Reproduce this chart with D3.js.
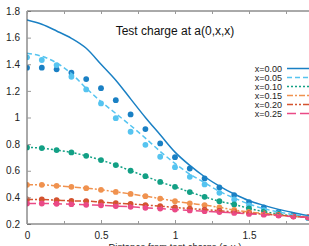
<!DOCTYPE html>
<html>
<head>
<meta charset="utf-8">
<script src="https://cdn.jsdelivr.net/npm/d3@7"></script>
<style>
  body { margin: 0; background: #fff; }
  svg { display: block; font-family: "Liberation Sans", Arial, sans-serif; }
</style>
</head>
<body>
<div id="chart"></div>
<script>
// distances (a.u.)
const distances = [0, 0.1, 0.2, 0.3, 0.4, 0.5, 0.6, 0.7, 0.8, 0.9, 1.0,
    1.1, 1.2, 1.3, 1.4, 1.5, 1.6, 1.7, 1.8, 1.9, 2.0];

const seriesNames = ["x=0.00", "x=0.05", "x=0.10", "x=0.15", "x=0.20", "x=0.25"];

// curves
const line000 = [1.732, 1.70, 1.65, 1.595, 1.52, 1.40, 1.28, 1.14, 1.00, 0.87, 0.74,
    0.64, 0.555, 0.485, 0.425, 0.375, 0.34, 0.31, 0.285, 0.262, 0.245];
const line005 = [1.482, 1.46, 1.41, 1.33, 1.22, 1.12, 1.03, 0.94, 0.845, 0.745, 0.655,
    0.575, 0.51, 0.445, 0.395, 0.35, 0.315, 0.29, 0.27, 0.255, 0.245];
const line010 = [0.775, 0.770, 0.755, 0.738, 0.712, 0.680, 0.643, 0.600, 0.559, 0.516, 0.479,
    0.440, 0.404, 0.371, 0.347, 0.317, 0.293, 0.275, 0.26, 0.25, 0.24];
const line015 = [0.494, 0.494, 0.487, 0.479, 0.469, 0.457, 0.441, 0.426, 0.409, 0.391, 0.371,
    0.355, 0.342, 0.325, 0.305, 0.29, 0.279, 0.268, 0.258, 0.25, 0.242];
const line020 = [0.384, 0.384, 0.379, 0.374, 0.372, 0.364, 0.356, 0.351, 0.342, 0.334, 0.324,
    0.316, 0.308, 0.300, 0.29, 0.282, 0.274, 0.266, 0.258, 0.25, 0.243];
const line025 = [0.354, 0.354, 0.352, 0.349, 0.344, 0.340, 0.335, 0.329, 0.322, 0.316, 0.309,
    0.302, 0.296, 0.29, 0.283, 0.276, 0.27, 0.263, 0.256, 0.25, 0.244];

// dots
const dots000 = [1.374, 1.374, 1.362, 1.336, 1.289, 1.220, 1.130, 1.023, 0.913, 0.805, 0.702,
    0.617, 0.542, 0.474, 0.417, 0.364, 0.324, 0.291, 0.266, 0.246, 0.235];
const dots005 = [1.452, 1.432, 1.394, 1.306, 1.211, 1.106, 0.995, 0.893, 0.795, 0.705, 0.627,
    0.554, 0.497, 0.434, 0.384, 0.339, 0.304, 0.28, 0.26, 0.245, 0.235];
const dots010 = line010;
const dots015 = line015;
const dots020 = line020;
const dots025 = line025;

const yTicks = [0.2, 0.4, 0.6, 0.8, 1, 1.2, 1.4, 1.6, 1.8];
const xTicks = [0, 0.5, 1, 1.5];
const xMinorTicks = [0.25, 0.75, 1.25, 1.75];

const width = 309, height = 246;
const margin = { top: 11, left: 27 };
const plotRight = 323, plotBottom = 224;

const colors = ["#1a80c4", "#56c4f0", "#13a085", "#f0924f", "#d4532f", "#ea4a86"];
const dashes = [null, "5,3", "2,2", "6,2,2,2", "6,2,2,2,2,2", "9,4"];

const series = [
    { line: line000, dots: dots000 },
    { line: line005, dots: dots005 },
    { line: line010, dots: dots010 },
    { line: line015, dots: dots015 },
    { line: line020, dots: dots020 },
    { line: line025, dots: dots025 }
];

const x = d3.scaleLinear().domain([0, 2]).range([margin.left, plotRight]);
const y = d3.scaleLinear().domain([0.2, 1.8]).range([plotBottom, margin.top]);

const svg = d3.select("#chart").append("svg")
    .attr("width", width)
    .attr("height", height);

svg.append("defs").append("clipPath").attr("id", "clip")
    .append("rect")
    .attr("x", margin.left).attr("y", margin.top)
    .attr("width", plotRight - margin.left).attr("height", plotBottom - margin.top);

const lineGen = d3.line()
    .x((d, i) => x(distances[i]))
    .y(d => y(d))
    .curve(d3.curveMonotoneX);

const plot = svg.append("g").attr("clip-path", "url(#clip)");

// dots first, lines on top
series.forEach((s, k) => {
    plot.append("g")
        .selectAll("circle")
        .data(s.dots)
        .enter().append("circle")
        .attr("cx", (d, i) => x(distances[i]))
        .attr("cy", d => y(d))
        .attr("r", 2.9)
        .attr("fill", colors[k]);
});

series.forEach((s, k) => {
    plot.append("path")
        .attr("d", lineGen(s.line))
        .attr("fill", "none")
        .attr("stroke", colors[k])
        .attr("stroke-width", 1.5)
        .attr("stroke-dasharray", dashes[k]);
});

// axes (ticks pointing inward, mirrored on top)
const axisColor = "#555";
const axisLeft = svg.append("g")
    .attr("transform", `translate(${margin.left},0)`)
    .call(d3.axisLeft(y).tickValues(yTicks).tickSize(-4).tickPadding(7)
        .tickFormat(d => +d.toFixed(1)));

const axisBottom = svg.append("g")
    .attr("transform", `translate(0,${plotBottom})`)
    .call(d3.axisBottom(x).tickValues(xTicks).tickSize(-4).tickPadding(8)
        .tickFormat(d => +d.toFixed(1)));

const axisTop = svg.append("g")
    .attr("transform", `translate(0,${margin.top})`)
    .call(d3.axisTop(x).tickValues(xTicks.concat(xMinorTicks)).tickSize(-3).tickFormat(""));

svg.append("g")
    .attr("transform", `translate(0,${plotBottom})`)
    .call(d3.axisBottom(x).tickValues(xMinorTicks).tickSize(-3).tickFormat(""));

svg.selectAll(".domain").attr("stroke", axisColor).attr("stroke-width", 1);
svg.selectAll(".tick line").attr("stroke", "#999");
svg.selectAll(".tick text").attr("fill", "#222").style("font-size", "10px");
svg.selectAll(".domain").attr("d", null);
axisBottom.select(".domain").attr("d", `M${margin.left},0H${plotRight}`);
axisTop.select(".domain").attr("d", `M${margin.left},0H${plotRight}`);
axisLeft.select(".domain").attr("d", `M0,${plotBottom}V${margin.top}`);

// title
svg.append("text")
    .attr("x", 175)
    .attr("y", 35)
    .attr("text-anchor", "middle")
    .style("font-size", "12px")
    .attr("fill", "#111")
    .text("Test charge at a(0,x,x)");

// x label (bottom edge of the picture cuts it, as in the original)
svg.append("text")
    .attr("x", 175)
    .attr("y", 250)
    .attr("text-anchor", "middle")
    .style("font-size", "9.5px")
    .attr("fill", "#222")
    .text("Distance from test charge (a.u.)");

// legend
const legend = svg.append("g");
seriesNames.forEach((name, k) => {
    const ly = 68.5 + k * 9;
    legend.append("text")
        .attr("x", 282)
        .attr("y", ly + 3)
        .attr("text-anchor", "end")
        .style("font-size", "9px")
        .attr("fill", "#222")
        .text(name);
    legend.append("line")
        .attr("x1", 287).attr("x2", 320)
        .attr("y1", ly).attr("y2", ly)
        .attr("stroke", colors[k])
        .attr("stroke-width", 1.5)
        .attr("stroke-dasharray", dashes[k]);
});
</script>
</body>
</html>
